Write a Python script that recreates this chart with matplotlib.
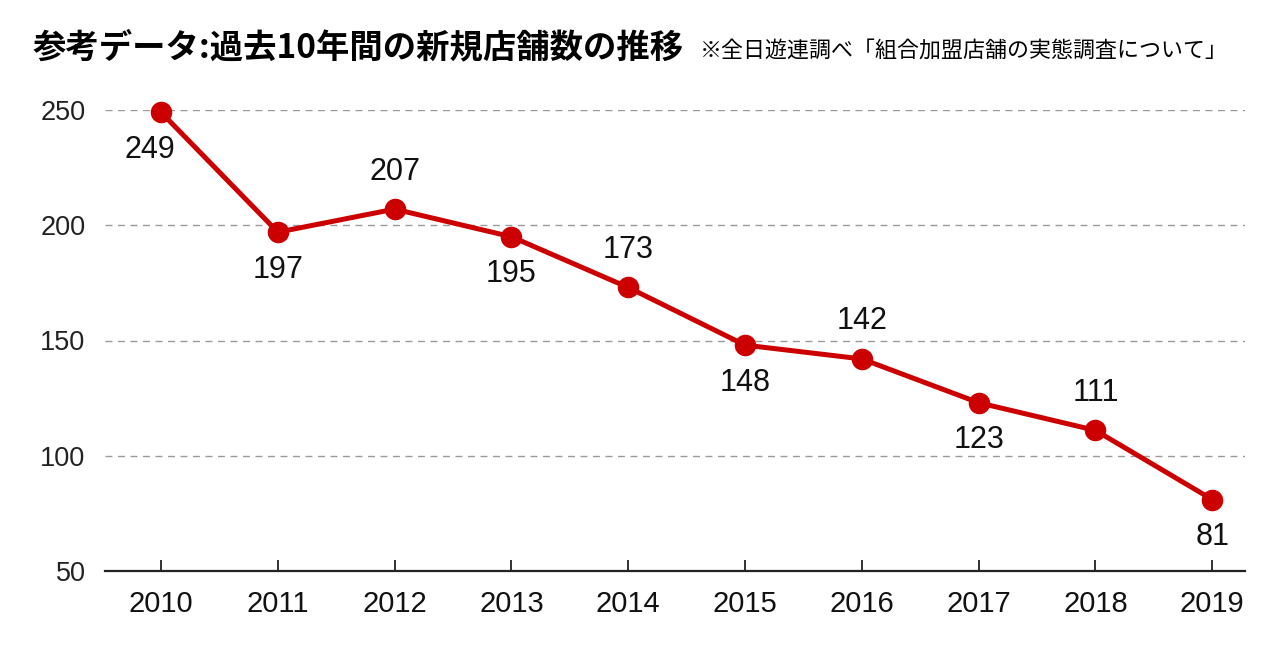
import matplotlib
matplotlib.use("Agg")
import matplotlib.pyplot as plt

years = [2010, 2011, 2012, 2013, 2014, 2015, 2016, 2017, 2018, 2019]
stores = [249, 197, 207, 195, 173, 148, 142, 123, 111, 81]
label_pos = ["below", "below", "above", "below", "above", "below", "above", "below", "above", "below"]
yticks = [50, 100, 150, 200, 250]
title = "参考データ:過去10年間の新規店舗数の推移"
source = "※全日遊連調べ「組合加盟店舗の実態調査について」"

num_font = ['Liberation Sans', 'DejaVu Sans']
cjk_font = ['Noto Sans CJK JP', 'DejaVu Sans']
plt.rcParams['font.family'] = num_font

fig = plt.figure(figsize=(12.8, 6.54), dpi=100)
ax = fig.add_axes([105/1280, 1-571/654, (1245-105)/1280, (571-110)/654])

red = "#cc0000"
ax.plot(years, stores, color=red, lw=3.6, marker="o", markersize=14.5,
        markerfacecolor=red, markeredgecolor=red, clip_on=False, zorder=3)

for i, (x, y, p) in enumerate(zip(years, stores, label_pos)):
    dy = -27 if p == "below" else 27
    dx = -8 if i == 0 else 0
    ax.annotate(str(y), (x, y), xytext=(dx, dy), textcoords="offset points",
                ha="center", va="center", fontsize=22, color="#111111")

ax.set_xlim(2009.52, 2019.28)
ax.set_ylim(50, 250)
ax.set_xticks(years)
ax.set_xticklabels([str(y) for y in years], fontsize=21, color="#111111")
ax.set_yticks(yticks)
ax.set_yticklabels([str(v) for v in yticks], fontsize=19.5, color="#222222")

for v in yticks[1:]:
    ax.axhline(v, color="#9a9a9a", lw=1.0, ls=(0, (5, 4)), zorder=1)

for s in ["top", "right", "left"]:
    ax.spines[s].set_visible(False)
ax.spines["bottom"].set_linewidth(1.6)
ax.spines["bottom"].set_color("#222222")
ax.tick_params(axis="x", direction="in", length=8, width=1.3, color="#222222", pad=14)
ax.tick_params(axis="y", length=0, pad=14)

fig.text(33/1280, 1-48/654, title, fontsize=24, fontweight="bold",
         family=cjk_font, va="center", ha="left")
fig.text(700/1280, 1-51/654, source, fontsize=15.8,
         family=cjk_font, va="center", ha="left")

fig.savefig("out.png", dpi=100)
